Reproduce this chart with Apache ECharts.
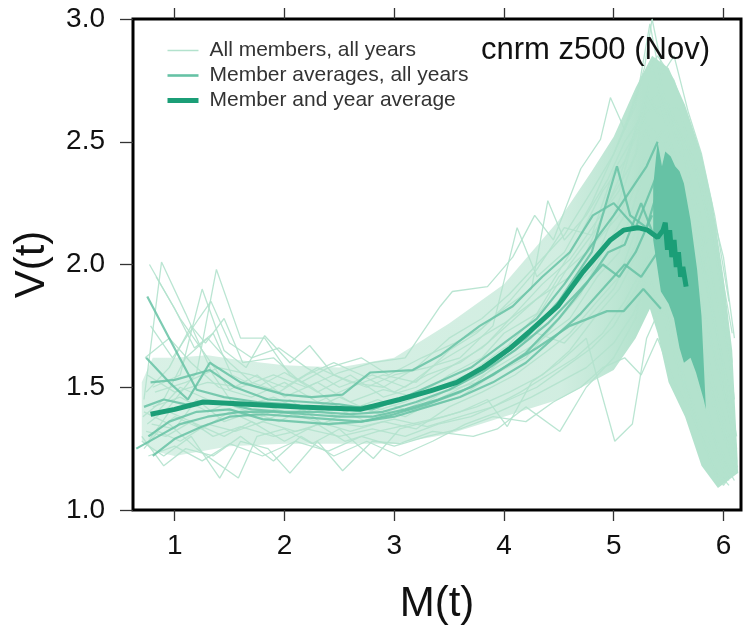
<!DOCTYPE html>
<html><head><meta charset="utf-8">
<script src="https://cdn.jsdelivr.net/npm/echarts@6/dist/echarts.min.js"></script>
<style>html,body{margin:0;padding:0;background:#fff}#c{width:747px;height:630px}</style>
</head><body><div id="c"></div>
<script>
// ---- data ----
const xTicks = [1, 2, 3, 4, 5, 6];
const yTicks = [1.0, 1.5, 2.0, 2.5, 3.0];
const legendNames = ['All members, all years', 'Member averages, all years', 'Member and year average'];
const titleText = 'cnrm z500 (Nov)';

// dense core of all member trajectories (upper / lower edges)
const lightEnvelopeUpper = [[0.70,1.52],[0.80,1.62],[1.0,1.62],[1.3,1.63],[1.6,1.61],[2.0,1.59],[2.5,1.58],[3.0,1.62],[3.5,1.76],[4.0,1.92],[4.5,2.18],[4.8,2.38],[5.0,2.52],[5.2,2.72],[5.35,2.85],[5.5,2.80],[5.65,2.65],[5.8,2.45],[5.9,2.25],[6.0,1.95],[6.08,1.65],[6.13,1.20]];
const lightEnvelopeLower = [[0.70,1.28],[0.8,1.24],[1.0,1.22],[1.5,1.26],[2.0,1.27],[2.5,1.27],[3.0,1.27],[3.5,1.31],[4.0,1.38],[4.5,1.45],[5.0,1.57],[5.2,1.70],[5.33,1.82],[5.4,1.72],[5.5,1.52],[5.65,1.38],[5.8,1.18],[5.95,1.09],[6.13,1.15]];

// dense region of member averages at the end of the trajectories
const memberBlobUpper = [[5.36,2.32],[5.40,2.50],[5.44,2.40],[5.47,2.46],[5.52,2.44],[5.56,2.40],[5.60,2.38],[5.64,2.33],[5.70,2.18],[5.76,1.98],[5.80,1.79],[5.84,1.41]];
const memberBlobLower = [[5.36,2.10],[5.43,1.89],[5.50,1.84],[5.55,1.78],[5.60,1.66],[5.64,1.60],[5.70,1.62],[5.75,1.56],[5.82,1.45],[5.84,1.41]];

const allMemberLines = [
 [[0.77,2.00],[1.05,1.78],[1.30,1.62],[1.50,1.49],[1.75,1.55],[2.0,1.46],[2.3,1.52],[2.6,1.44],[2.9,1.49],[3.2,1.46],[3.5,1.55],[3.8,1.62],[4.0,1.72],[4.3,1.80],[4.5,1.95],[4.75,2.05],[4.95,2.25],[5.15,2.40],[5.3,2.55],[5.45,2.35],[5.6,2.05],[5.75,1.80],[5.9,1.55],[6.05,1.30]],
 [[0.72,1.45],[0.88,2.01],[1.10,1.80],[1.35,1.55],[1.55,1.42],[1.80,1.38],[2.05,1.45],[2.35,1.35],[2.65,1.42],[2.95,1.38],[3.25,1.44],[3.55,1.50],[3.85,1.58],[4.1,1.70],[4.35,1.82],[4.6,2.00],[4.85,2.15],[5.05,2.35],[5.25,2.62],[5.40,2.70],[5.55,2.45],[5.70,2.20],[5.85,1.90],[6.0,1.55],[6.1,1.25]],
 [[0.75,1.35],[0.95,1.42],[1.20,1.56],[1.38,1.98],[1.60,1.70],[1.82,1.70],[2.05,1.55],[2.25,1.50],[2.55,1.40],[2.85,1.45],[3.15,1.40],[3.45,1.48],[3.75,1.52],[4.0,1.62],[4.25,1.70],[4.5,1.85],[4.8,1.98],[5.0,2.20],[5.2,2.45],[5.35,2.80],[5.5,2.60],[5.65,2.40],[5.8,2.10],[5.95,1.70],[6.1,1.40]],
 [[0.80,1.50],[1.05,1.55],[1.25,1.90],[1.45,1.65],[1.65,1.58],[1.82,1.71],[2.05,1.60],[2.23,1.67],[2.45,1.55],[2.75,1.50],[3.0,1.55],[3.3,1.58],[3.6,1.62],[3.9,1.75],[4.12,2.15],[4.3,1.95],[4.55,2.05],[4.8,2.25],[5.0,2.45],[5.2,2.65],[5.33,2.98],[5.45,2.70],[5.6,2.55],[5.8,2.30],[5.95,2.00],[6.08,1.60]],
 [[0.70,1.28],[0.90,1.22],[1.15,1.30],[1.41,1.13],[1.60,1.28],[1.85,1.25],[2.05,1.15],[2.30,1.28],[2.53,1.16],[2.80,1.28],[3.05,1.27],[3.35,1.32],[3.72,1.30],[3.94,1.33],[4.2,1.42],[4.51,1.32],[4.75,1.50],[5.0,1.62],[5.2,1.78],[5.35,2.10],[5.5,1.80],[5.65,1.50],[5.8,1.30],[5.95,1.12],[6.1,1.15]],
 [[0.72,1.40],[0.95,1.35],[1.2,1.25],[1.58,1.13],[1.75,1.30],[2.0,1.33],[2.25,1.27],[2.5,1.33],[2.81,1.21],[3.05,1.33],[3.3,1.36],[3.6,1.40],[3.85,1.45],[4.03,1.34],[4.25,1.52],[4.5,1.60],[4.75,1.70],[5.01,1.28],[5.17,1.35],[5.3,1.70],[5.45,1.85],[5.6,1.60],[5.75,1.40],[5.9,1.25],[6.05,1.12]],
 [[0.75,1.55],[1.0,1.48],[1.3,1.52],[1.6,1.50],[1.9,1.55],[2.2,1.50],[2.5,1.56],[2.8,1.60],[3.1,1.62],[3.42,1.83],[3.53,1.89],[3.85,1.91],[4.08,2.03],[4.28,2.20],[4.45,2.10],[4.70,2.39],[4.88,2.51],[4.97,2.68],[5.10,2.55],[5.25,2.75],[5.40,2.85],[5.55,2.75],[5.70,2.55],[5.85,2.30],[6.0,2.03],[6.1,1.70]],
 [[0.78,1.30],[1.0,1.38],[1.25,1.33],[1.5,1.40],[1.75,1.35],[2.0,1.40],[2.3,1.36],[2.6,1.32],[2.9,1.36],[3.2,1.33],[3.5,1.42],[3.8,1.48],[4.1,1.55],[4.4,1.65],[4.6,1.72],[4.85,1.85],[5.05,1.95],[5.25,2.20],[5.4,2.40],[5.5,2.20],[5.65,1.95],[5.8,1.65],[5.95,1.40],[6.12,1.20]],
 [[0.73,1.62],[0.95,1.70],[1.15,1.60],[1.4,1.50],[1.7,1.46],[2.0,1.52],[2.3,1.44],[2.6,1.50],[2.9,1.55],[3.2,1.52],[3.5,1.65],[3.75,1.72],[4.0,1.82],[4.25,1.90],[4.40,2.26],[4.55,2.10],[4.75,2.20],[4.95,2.35],[5.1,2.50],[5.25,2.60],[5.45,2.50],[5.6,2.30],[5.75,2.05],[5.91,2.12],[6.0,1.80],[6.1,1.45]],
 [[0.80,1.42],[1.05,1.46],[1.3,1.40],[1.55,1.45],[1.85,1.42],[2.15,1.38],[2.45,1.42],[2.75,1.36],[3.0,1.40],[3.3,1.42],[3.6,1.46],[3.9,1.55],[4.2,1.62],[4.45,1.75],[4.7,1.88],[4.9,2.05],[5.1,2.20],[5.3,2.45],[5.45,2.55],[5.6,2.35],[5.75,2.15],[5.88,1.85],[6.0,1.60],[6.12,1.30]],
 [[0.74,1.32],[0.92,1.30],[1.15,1.36],[1.35,1.30],[1.6,1.34],[1.9,1.30],[2.2,1.33],[2.5,1.30],[2.8,1.33],[3.1,1.30],[3.4,1.35],[3.7,1.38],[4.0,1.44],[4.3,1.50],[4.55,1.58],[4.8,1.66],[5.0,1.75],[5.2,1.90],[5.38,2.05],[5.52,1.85],[5.68,1.62],[5.82,1.42],[5.97,1.22],[6.1,1.12]],
 [[0.82,1.48],[1.1,1.52],[1.4,1.58],[1.7,1.55],[2.0,1.50],[2.3,1.58],[2.6,1.52],[2.9,1.50],[3.2,1.58],[3.5,1.70],[3.8,1.78],[4.05,1.88],[4.3,2.00],[4.55,2.12],[4.8,2.30],[5.0,2.45],[5.15,2.62],[5.28,2.80],[5.35,3.00],[5.45,2.78],[5.55,2.85],[5.68,2.62],[5.80,2.45],[5.92,2.20],[6.05,1.85]],
 [[0.76,1.22],[1.0,1.26],[1.25,1.20],[1.5,1.27],[1.8,1.22],[2.1,1.28],[2.4,1.24],[2.7,1.30],[3.0,1.26],[3.3,1.30],[3.6,1.33],[3.9,1.38],[4.2,1.36],[4.45,1.44],[4.7,1.50],[4.9,1.58],[5.1,1.62],[5.25,1.55],[5.4,1.70],[5.55,1.52],[5.7,1.40],[5.85,1.25],[6.0,1.10],[6.13,1.18]],
 [[0.71,1.38],[0.9,1.45],[1.1,1.62],[1.3,1.70],[1.5,1.60],[1.7,1.52],[1.95,1.48],[2.2,1.55],[2.45,1.60],[2.7,1.55],[3.0,1.48],[3.3,1.55],[3.6,1.60],[3.85,1.68],[4.1,1.80],[4.35,1.92],[4.6,2.02],[4.85,2.18],[5.05,2.30],[5.2,2.55],[5.3,2.70],[5.42,2.60],[5.58,2.65],[5.72,2.45],[5.85,2.20],[5.97,1.95],[6.08,1.55]],
 [[0.79,1.35],[1.0,1.33],[1.2,1.45],[1.45,1.36],[1.7,1.40],[1.95,1.36],[2.2,1.42],[2.5,1.38],[2.8,1.42],[3.1,1.38],[3.4,1.45],[3.7,1.52],[4.0,1.60],[4.3,1.68],[4.6,1.78],[4.85,1.95],[5.05,2.05],[5.22,2.30],[5.38,2.50],[5.5,2.40],[5.62,2.15],[5.78,1.90],[5.9,1.65],[6.05,1.40],[6.13,1.15]],
 [[0.72,1.25],[0.85,1.32],[1.05,1.28],[1.3,1.35],[1.55,1.32],[1.8,1.36],[2.1,1.32],[2.4,1.36],[2.7,1.34],[3.0,1.37],[3.3,1.34],[3.6,1.38],[3.9,1.42],[4.15,1.48],[4.4,1.55],[4.65,1.62],[4.9,1.72],[5.1,1.85],[5.28,2.00],[5.42,2.20],[5.56,2.00],[5.7,1.75],[5.85,1.50],[6.0,1.30],[6.1,1.18]],
 [[0.83,1.95],[1.0,1.82],[1.18,1.66],[1.35,1.72],[1.52,1.55],[1.75,1.50],[2.0,1.56],[2.3,1.48],[2.6,1.55],[2.9,1.46],[3.2,1.50],[3.5,1.58],[3.8,1.66],[4.1,1.78],[4.4,1.90],[4.65,2.08],[4.9,2.30],[5.1,2.42],[5.3,2.62],[5.48,2.66],[5.62,2.48],[5.78,2.22],[5.92,1.90],[6.05,1.62]],
 [[0.78,1.75],[0.98,1.62],[1.22,1.78],[1.33,1.85],[1.5,1.68],[1.7,1.62],[1.95,1.66],[2.2,1.58],[2.5,1.50],[2.8,1.55],[3.1,1.50],[3.4,1.60],[3.7,1.68],[4.0,1.76],[4.3,1.86],[4.6,1.95],[4.85,2.10],[5.05,2.20],[5.25,2.40],[5.42,2.45],[5.58,2.28],[5.72,2.00],[5.88,1.72],[6.02,1.45],[6.12,1.25]],
 [[0.70,1.30],[0.9,1.18],[1.1,1.25],[1.35,1.22],[1.6,1.30],[1.9,1.20],[2.15,1.30],[2.45,1.22],[2.75,1.28],[3.05,1.22],[3.35,1.28],[3.65,1.35],[3.95,1.40],[4.25,1.46],[4.5,1.52],[4.75,1.58],[5.0,1.68],[5.18,1.80],[5.32,1.95],[5.46,1.78],[5.6,1.55],[5.75,1.35],[5.9,1.18],[6.05,1.10]],
 [[0.74,1.48],[0.95,1.58],[1.15,1.75],[1.28,1.68],[1.45,1.78],[1.62,1.60],[1.9,1.62],[2.15,1.52],[2.4,1.58],[2.7,1.62],[2.95,1.55],[3.25,1.62],[3.55,1.68],[3.8,1.74],[4.05,1.85],[4.3,1.98],[4.55,2.15],[4.8,2.12],[5.0,2.38],[5.18,2.52],[5.35,2.65],[5.5,2.62],[5.65,2.50],[5.8,2.35],[5.95,2.05],[6.08,1.72]],
 [[0.76,1.28],[0.95,1.40],[1.2,1.35],[1.45,1.30],[1.7,1.36],[2.0,1.28],[2.3,1.35],[2.55,1.28],[2.85,1.32],[3.15,1.35],[3.45,1.38],[3.75,1.42],[4.05,1.48],[4.35,1.55],[4.6,1.65],[4.82,1.78],[5.05,1.90],[5.22,2.05],[5.36,2.25],[5.5,2.05],[5.64,1.80],[5.78,1.55],[5.92,1.30],[6.08,1.15]],
 [[0.8,1.38],[1.05,1.50],[1.3,1.45],[1.6,1.42],[1.9,1.46],[2.2,1.40],[2.5,1.46],[2.8,1.40],[3.1,1.44],[3.4,1.50],[3.7,1.56],[4.0,1.66],[4.3,1.72],[4.55,1.68],[4.8,1.80],[5.0,1.90],[5.2,2.08],[5.35,2.35],[5.5,2.15],[5.65,1.88],[5.82,1.60],[5.98,1.35],[6.12,1.15]]
];

const memberAverageLines = [
 [[0.75,1.87],[0.95,1.70],[1.20,1.49],[1.45,1.46],[1.75,1.44],[2.05,1.43],[2.4,1.41],[2.7,1.42],[3.0,1.44],[3.3,1.48],[3.6,1.52],[3.9,1.60],[4.2,1.70],[4.5,1.85],[4.8,2.05],[5.03,2.40],[5.15,2.20],[5.3,2.15],[5.4,2.30]],
 [[0.74,1.62],[0.95,1.52],[1.12,1.45],[1.32,1.60],[1.6,1.52],[2.0,1.47],[2.25,1.46],[2.53,1.47],[2.78,1.56],[3.17,1.57],[3.42,1.63],[3.78,1.75],[4.08,1.83],[4.35,1.95],[4.6,2.05],[4.81,2.20],[5.0,2.25],[5.2,2.15],[5.38,2.35]],
 [[0.65,1.25],[0.85,1.30],[1.05,1.35],[1.3,1.38],[1.6,1.40],[1.9,1.40],[2.2,1.39],[2.5,1.38],[2.8,1.38],[3.1,1.41],[3.4,1.45],[3.7,1.50],[4.0,1.58],[4.3,1.66],[4.6,1.75],[4.94,1.81],[5.09,1.81],[5.27,1.90],[5.43,1.82]],
 [[0.80,1.22],[1.0,1.29],[1.25,1.34],[1.5,1.38],[1.8,1.39],[2.1,1.38],[2.4,1.37],[2.7,1.36],[3.0,1.39],[3.3,1.43],[3.6,1.48],[3.9,1.55],[4.2,1.64],[4.5,1.78],[4.75,1.92],[4.95,2.05],[5.1,2.08],[5.25,2.25],[5.38,2.10]],
 [[0.78,1.52],[1.0,1.53],[1.32,1.57],[1.55,1.50],[1.85,1.45],[2.2,1.44],[2.5,1.43],[2.8,1.41],[3.1,1.46],[3.4,1.52],[3.7,1.58],[4.0,1.68],[4.3,1.78],[4.55,1.92],[4.8,2.08],[5.0,2.20],[5.15,2.30],[5.3,2.40],[5.4,2.50]],
 [[0.72,1.42],[0.9,1.45],[1.1,1.43],[1.4,1.44],[1.7,1.41],[2.0,1.40],[2.3,1.40],[2.6,1.39],[2.9,1.40],[3.2,1.44],[3.5,1.49],[3.8,1.56],[4.1,1.65],[4.4,1.76],[4.7,1.90],[4.9,2.00],[5.05,1.95],[5.2,2.05],[5.35,2.20]],
 [[0.76,1.30],[0.95,1.36],[1.2,1.40],[1.5,1.41],[1.8,1.37],[2.1,1.36],[2.4,1.35],[2.7,1.36],[3.0,1.38],[3.3,1.42],[3.6,1.46],[3.9,1.52],[4.2,1.60],[4.45,1.70],[4.7,1.80],[4.9,1.90],[5.1,2.00],[5.25,1.95],[5.4,2.05]]
];

const overallAverage = [[0.78,1.39],[1.0,1.41],[1.26,1.44],[1.71,1.43],[2.14,1.42],[2.69,1.41],[3.05,1.45],[3.33,1.485],[3.57,1.52],[3.81,1.58],[4.06,1.66],[4.24,1.73],[4.49,1.83],[4.72,1.97],[4.97,2.10],[5.09,2.14],[5.22,2.15],[5.31,2.14],[5.40,2.11],[5.45,2.14],[5.47,2.17],[5.49,2.06],[5.51,2.14],[5.53,2.03],[5.55,2.10],[5.57,1.99],[5.59,2.05],[5.61,1.95],[5.63,1.99],[5.66,1.91]];

// ---- chart ----
const LIGHT = '#b3e2cd', MED = '#66c2a5', DARK = '#1b9e77';
const FONT = '"Liberation Sans", Arial, sans-serif';
const chart = echarts.init(document.getElementById('c'), null, {renderer: 'canvas'});

function polygon(name, upper, lower, fill, z) {
  const pts = upper.concat(lower.slice().reverse());
  return {
    type: 'custom', name: name, z: z, silent: true, clip: true,
    coordinateSystem: 'cartesian2d',
    data: [pts[0]],
    renderItem: function (params, api) {
      return { type: 'polygon', shape: { points: pts.map(p => api.coord(p)) }, style: { fill: fill } };
    }
  };
}

const series = [];
allMemberLines.forEach(l => series.push({
  type: 'line', name: legendNames[0], data: l, z: 2, showSymbol: false, symbol: 'none', silent: true,
  lineStyle: { color: LIGHT, width: 1.3, opacity: 0.9 }, itemStyle: { color: LIGHT }, animation: false
}));
memberAverageLines.forEach(l => series.push({
  type: 'line', name: legendNames[1], data: l, z: 4, showSymbol: false, symbol: 'none', silent: true,
  lineStyle: { color: MED, width: 2.2, opacity: 0.85 }, itemStyle: { color: MED }, animation: false
}));
series.push({
  type: 'line', name: legendNames[2], data: overallAverage, z: 5, showSymbol: false, symbol: 'none', silent: true,
  lineStyle: { color: DARK, width: 5 }, itemStyle: { color: DARK }, animation: false
});
series.push(polygon('envelope', lightEnvelopeUpper, lightEnvelopeLower,
  new echarts.graphic.LinearGradient(0, 0, 1, 0, [
    { offset: 0, color: 'rgba(179,226,205,0.5)' },
    { offset: 0.70, color: 'rgba(179,226,205,0.6)' },
    { offset: 0.84, color: 'rgba(179,226,205,1)' },
    { offset: 1, color: 'rgba(179,226,205,1)' }]), 1));
series.push(polygon('memberBlob', memberBlobUpper, memberBlobLower, MED, 3));

chart.setOption({
  animation: false,
  backgroundColor: '#fff',
  title: { text: titleText, right: 32, top: 30, textStyle: { fontFamily: FONT, fontSize: 31, fontWeight: 'normal', color: '#111' } },
  legend: {
    data: [
      { name: legendNames[0], lineStyle: { color: LIGHT, width: 1.5, opacity: 1 } },
      { name: legendNames[1], lineStyle: { color: MED, width: 2.6, opacity: 1 } },
      { name: legendNames[2], lineStyle: { color: DARK, width: 5, opacity: 1 } }
    ],
    orient: 'vertical', left: 160, top: 35, itemWidth: 31, itemHeight: 14, itemGap: 4,
    selectedMode: false,
    itemStyle: { opacity: 0 },
    textStyle: { fontFamily: FONT, fontSize: 21, color: '#333', padding: [0, 0, 0, 6] }
  },
  grid: { left: 133, right: 6, top: 19, bottom: 118, show: true, borderColor: '#000', borderWidth: 3, backgroundColor: 'transparent' },
  xAxis: [{
    type: 'value', min: 0.62, max: 6.16, position: 'bottom',
    name: 'M(t)', nameLocation: 'middle', nameGap: 73,
    nameTextStyle: { fontFamily: FONT, fontSize: 42, color: '#111' },
    axisLine: { show: false },
    axisTick: { show: true, length: 11, customValues: xTicks, lineStyle: { color: '#333', width: 1.3 } },
    axisLabel: { customValues: xTicks, margin: 22, fontFamily: FONT, fontSize: 28, color: '#111', formatter: v => String(v) },
    splitLine: { show: false }
  }, {
    type: 'value', min: 0.62, max: 6.16, position: 'top',
    axisLine: { show: false },
    axisTick: { show: true, length: 11, customValues: xTicks, lineStyle: { color: '#333', width: 1.3 } },
    axisLabel: { show: false }, splitLine: { show: false }
  }],
  yAxis: {
    type: 'value', min: 1, max: 3, interval: 0.5,
    name: 'V(t)', nameLocation: 'middle', nameGap: 80,
    nameTextStyle: { fontFamily: FONT, fontSize: 42, color: '#111' },
    axisLine: { show: false },
    axisTick: { show: true, length: 13, lineStyle: { color: '#333', width: 1.3 } },
    axisLabel: { margin: 28, fontFamily: FONT, fontSize: 28, color: '#111', formatter: v => v.toFixed(1), customValues: yTicks },
    splitLine: { show: false }
  },
  series: series
});
</script></body></html>
